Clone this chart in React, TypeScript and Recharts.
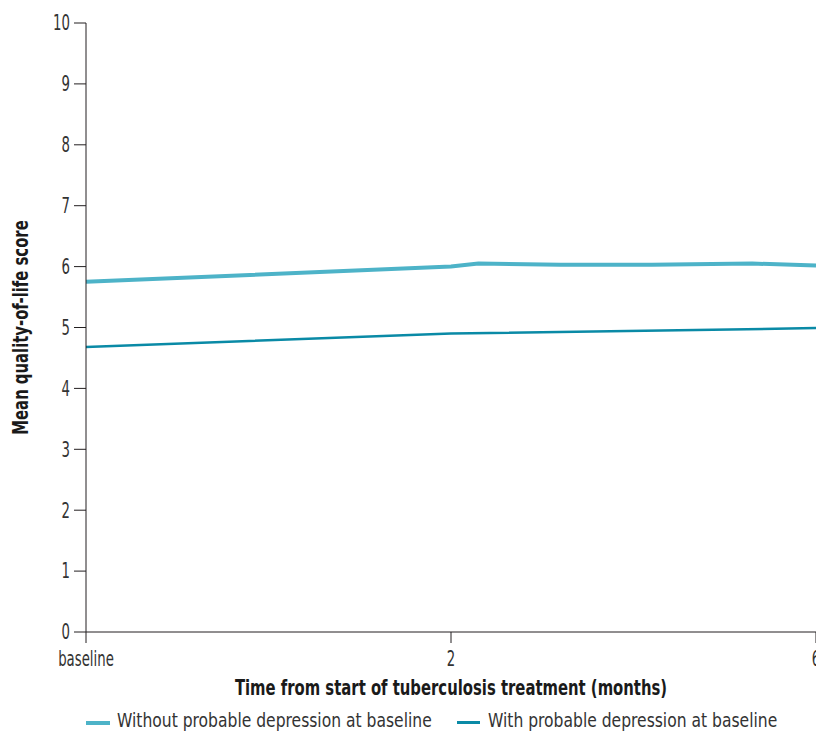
import React from "react";
import {
  LineChart,
  Line,
  XAxis,
  YAxis,
  Legend,
} from "recharts";

// x position on the (broken) time axis: 0 = baseline, 4 = 2 months, 8 = 6 months
const positions = [0, 4, 4.3, 5.2, 6.2, 7.3, 8];
const withoutDepression = [5.75, 6.0, 6.05, 6.03, 6.03, 6.05, 6.02];
const withDepression = [4.68, 4.9, null, null, null, null, 4.99];

const xTicks = [0, 4, 8];
const xTickLabels = ["baseline", "2", "6"];
const yTicks = [0, 1, 2, 3, 4, 5, 6, 7, 8, 9, 10];

const seriesNames = [
  "Without probable depression at baseline",
  "With probable depression at baseline",
];
const xTitle = "Time from start of tuberculosis treatment (months)";
const yTitle = "Mean quality-of-life score";

const lightColor = "#4db3c8";
const darkColor = "#0a8aa6";
const axisColor = "#231f20";
const textColor = "#333333";
const font = "'DejaVu Sans Condensed', 'DejaVu Sans', sans-serif";

const data = positions.map((p, i) => ({
  pos: p,
  without: withoutDepression[i],
  with: withDepression[i],
}));

// condensed-looking text: squeeze glyphs horizontally
const XTick = (props: any) => {
  const { x, y, payload } = props;
  return (
    <text
      transform={`translate(${x},${y}) scale(0.72,1)`}
      textAnchor="middle"
      dy="0.76em"
      fill={textColor}
      fontSize={20.5}
      fontFamily={font}
    >
      {xTickLabels[xTicks.indexOf(payload.value)]}
    </text>
  );
};

const YTick = (props: any) => {
  const { x, y, payload } = props;
  return (
    <text
      transform={`translate(${x},${y}) scale(0.72,1)`}
      textAnchor="end"
      dy="0.36em"
      fill={textColor}
      fontSize={20.5}
      fontFamily={font}
    >
      {payload.value}
    </text>
  );
};

const XTitle = (props: any) => {
  const { x, y, width } = props.viewBox;
  return (
    <text
      transform={`translate(${x + width / 2},${y + 63}) scale(0.75,1)`}
      textAnchor="middle"
      fill="#1a1a1a"
      fontSize={22}
      fontWeight={700}
      fontFamily={font}
    >
      {xTitle}
    </text>
  );
};

const YTitle = (props: any) => {
  const { y, height } = props.viewBox;
  return (
    <text
      transform={`translate(20,${y + height / 2}) rotate(-90) scale(0.75,1)`}
      textAnchor="middle"
      dy="0.36em"
      fill="#1a1a1a"
      fontSize={22}
      fontWeight={700}
      fontFamily={font}
    >
      {yTitle}
    </text>
  );
};

const LegendContent = () => (
  <div
    style={{
      height: 29,
      position: "relative",
      fontFamily: font,
      fontSize: 19,
      lineHeight: "20px",
      color: textColor,
    }}
  >
    <span style={{ position: "absolute", left: 86, top: 19, width: 24, height: 4, background: lightColor }} />
    <span style={{ position: "absolute", left: 117, top: 8, whiteSpace: "nowrap", transform: "scaleX(0.91)", transformOrigin: "left" }}>
      {seriesNames[0]}
    </span>
    <span style={{ position: "absolute", left: 457, top: 19, width: 23, height: 3, background: darkColor }} />
    <span style={{ position: "absolute", left: 488, top: 8, whiteSpace: "nowrap", transform: "scaleX(0.91)", transformOrigin: "left" }}>
      {seriesNames[1]}
    </span>
  </div>
);

const App = () => {
  return (
    <div style={{ position: "absolute", left: 0, top: 0, width: 816, height: 731, overflow: "hidden", background: "#fff" }}>
      <LineChart
        width={840}
        height={731}
        data={data}
        margin={{ top: 23, right: 24, bottom: 0, left: 0 }}
      >
        <XAxis
          dataKey="pos"
          type="number"
          domain={[0, 8]}
          ticks={xTicks}
          height={70}
          tickSize={11}
          tickMargin={7}
          stroke={axisColor}
          tick={<XTick />}
          label={{ content: <XTitle /> }}
        />
        <YAxis
          type="number"
          domain={[0, 10]}
          ticks={yTicks}
          width={86}
          tickSize={12}
          tickMargin={4}
          stroke={axisColor}
          tick={<YTick />}
          label={{ content: <YTitle /> }}
        />
        <Legend verticalAlign="bottom" content={<LegendContent />} />
        <Line
          type="linear"
          dataKey="without"
          name={seriesNames[0]}
          stroke={lightColor}
          strokeWidth={4}
          dot={false}
          isAnimationActive={false}
        />
        <Line
          type="linear"
          dataKey="with"
          name={seriesNames[1]}
          stroke={darkColor}
          strokeWidth={2.5}
          dot={false}
          connectNulls
          isAnimationActive={false}
        />
      </LineChart>
    </div>
  );
};

export default App;
